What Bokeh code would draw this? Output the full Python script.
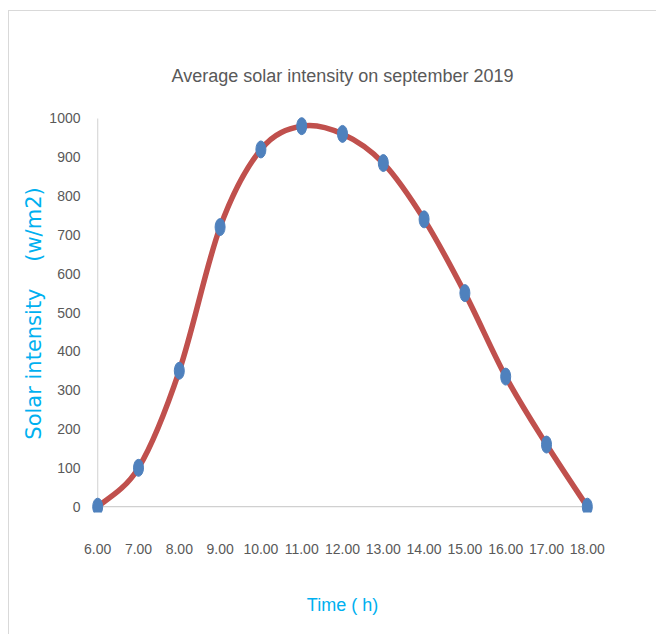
from bokeh.plotting import figure
from bokeh.models import FixedTicker, NumeralTickFormatter, ColumnDataSource
from bokeh.embed import file_html
from bokeh.resources import INLINE

# ---- data ----
hours = [6, 7, 8, 9, 10, 11, 12, 13, 14, 15, 16, 17, 18]
intensity = [0, 100, 350, 720, 920, 980, 960, 885, 740, 550, 335, 160, 0]
y_ticks = [0, 100, 200, 300, 400, 500, 600, 700, 800, 900, 1000]

title_text = "Average solar intensity on september 2019"
x_label = "Time ( h)"
y_label = "Solar intensity\u00a0\u00a0\u00a0\u00a0(w/m2)"

# ---- smoothed curve (Catmull-Rom style bezier segments, like spreadsheet smoothing) ----
n = len(hours)
def pt(i):
    i = max(0, min(n - 1, i))
    return hours[i], intensity[i]

seg = dict(x0=[], y0=[], x1=[], y1=[], cx0=[], cy0=[], cx1=[], cy1=[])
for i in range(n - 1):
    xm, ym = pt(i - 1)
    xa, ya = pt(i)
    xb, yb = pt(i + 1)
    xp, yp = pt(i + 2)
    seg["x0"].append(xa); seg["y0"].append(ya)
    seg["x1"].append(xb); seg["y1"].append(yb)
    seg["cx0"].append(xa + (xb - xm) / 6.0); seg["cy0"].append(ya + (yb - ym) / 6.0)
    seg["cx1"].append(xb - (xp - xa) / 6.0); seg["cy1"].append(yb - (yp - ya) / 6.0)

TXT = "#595959"
BLUE_TXT = "#00B0F0"
NARROW = "Liberation Sans Narrow, Liberation Sans, sans-serif"

p = figure(
    width=648, height=624,
    x_range=(5.75, 18.25), y_range=(-15, 1010),
    output_backend="svg", toolbar_location=None,
    min_border_left=78, min_border_right=60, min_border_top=103, min_border_bottom=123,
    margin=(10, 0, 0, 8),
    styles={"border-top": "1px solid #d9d9d9", "border-left": "1px solid #d9d9d9"},
)
p.outline_line_color = None
p.background_fill_color = "white"
p.border_fill_color = "white"
p.xgrid.visible = False
p.ygrid.visible = False

# title
p.title.text = title_text
p.title.align = "center"
p.title.text_font = NARROW
p.title.text_font_size = "18px"
p.title.text_font_style = "normal"
p.title.text_color = TXT
p.title.standoff = 58

# axes
for ax in (p.xaxis, p.yaxis):
    ax.axis_line_color = None
    ax.major_tick_line_color = None
    ax.minor_tick_line_color = None
    ax.major_label_text_font = NARROW
    ax.major_label_text_font_size = "14px"
    ax.major_label_text_color = TXT
    ax.axis_label_text_color = BLUE_TXT
    ax.axis_label_text_font_style = "normal"

p.xaxis.ticker = FixedTicker(ticks=hours)
p.xaxis.formatter = NumeralTickFormatter(format="0.00")
p.xaxis.major_label_standoff = 25
p.xaxis.axis_label = x_label
p.xaxis.axis_label_text_font = NARROW
p.xaxis.axis_label_text_font_size = "18px"
p.xaxis.axis_label_standoff = 38

p.yaxis.ticker = FixedTicker(ticks=y_ticks)
p.yaxis.major_label_standoff = 1
p.yaxis.axis_label = y_label
p.yaxis.axis_label_text_font = "DejaVu Sans"
p.yaxis.axis_label_text_font_size = "21px"
p.yaxis.axis_label_standoff = 0

# axis lines drawn at data extents
p.segment(x0=[hours[0]], y0=[y_ticks[0]], x1=[hours[-1]], y1=[y_ticks[0]],
          line_color="#d0d0d0", line_width=1.2)
p.segment(x0=[hours[0]], y0=[y_ticks[0]], x1=[hours[0]], y1=[y_ticks[-1]],
          line_color="#d9d9d9", line_width=1.2)

# smoothed line
p.bezier(x0="x0", y0="y0", x1="x1", y1="y1", cx0="cx0", cy0="cy0", cx1="cx1", cy1="cy1",
         source=ColumnDataSource(seg), line_color="#C0504D", line_width=5.5)

# markers
p.ellipse(x=hours, y=intensity, width=10, height=17,
          width_units="screen", height_units="screen",
          fill_color="#4F81BD", line_color="#4F81BD")

open("out.html", "w").write(file_html(p, INLINE))
